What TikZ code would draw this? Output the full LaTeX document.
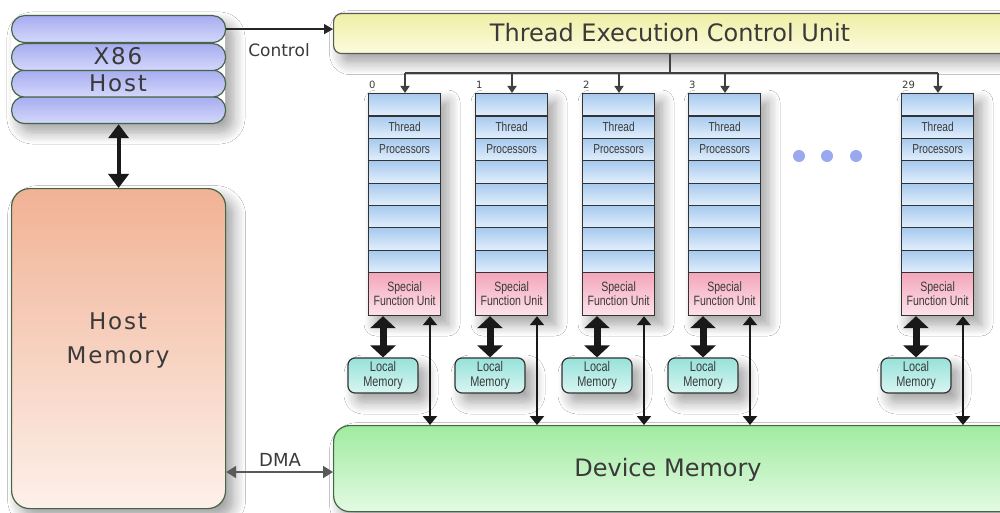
\documentclass[tikz,border=0pt]{standalone}
\usepackage{fontspec}
\setmainfont{DejaVu Sans}
\newfontfamily\narrowfont[FakeStretch=0.78]{Liberation Sans}
\newfontfamily\spacedfont[LetterSpace=8]{DejaVu Sans}
\usetikzlibrary{arrows.meta,shadows.blur,calc}
\definecolor{edgegreen}{HTML}{466446}
\definecolor{pilltop}{HTML}{A6ACF0}
\definecolor{pillbot}{HTML}{D4D8FB}
\definecolor{teutop}{HTML}{EFEFA6}
\definecolor{teubot}{HTML}{FBFBDE}
\definecolor{celltop}{HTML}{A6C9EE}
\definecolor{cellbot}{HTML}{E2EFFC}
\definecolor{sfutop}{HTML}{F3A6BC}
\definecolor{sfubot}{HTML}{FDE3EA}
\definecolor{lmtop}{HTML}{96E2DA}
\definecolor{lmbot}{HTML}{DAF6F2}
\definecolor{dmtop}{HTML}{A0EBA0}
\definecolor{dmbot}{HTML}{E3FAE3}
\definecolor{hmtop}{HTML}{F1B295}
\definecolor{hmbot}{HTML}{FDF0EA}
\definecolor{dotc}{HTML}{9AA8F0}
\definecolor{txt}{HTML}{3A3A3A}
\begin{document}
\begin{tikzpicture}[x=1pt,y=-1pt,
  shad/.style={blur shadow={shadow xshift=8pt,shadow yshift=-9pt,shadow blur radius=12pt,shadow opacity=38,shadow blur steps=10}},
  pill/.style={draw=edgegreen,line width=1.2pt,rounded corners=13pt,top color=pilltop,bottom color=pillbot,minimum width=214pt,minimum height=27pt,inner sep=0pt,anchor=north west},
  bigtxt/.style={text=txt,font=\fontsize{24}{34}\selectfont,inner sep=0pt},
  bigspaced/.style={text=txt,font=\spacedfont\fontsize{23}{34}\selectfont,inner sep=0pt,align=center},
  cell/.style={draw=black!80,line width=1.2pt,top color=celltop,bottom color=cellbot,minimum width=72pt,minimum height=22.4pt,anchor=north west,inner sep=0pt,text=txt,font=\narrowfont\fontsize{13}{13}\selectfont},
  sfu/.style={draw=black!80,line width=1.2pt,top color=sfutop,bottom color=sfubot,minimum width=72pt,minimum height=43pt,anchor=north west,inner sep=0pt,text=txt,align=center,font=\narrowfont\fontsize{13.5}{14}\selectfont},
  lm/.style={draw=black!80,line width=1.2pt,rounded corners=7pt,top color=lmtop,bottom color=lmbot,minimum width=70pt,minimum height=35pt,inner sep=0pt,text=txt,align=center,font=\narrowfont\fontsize{14}{15}\selectfont,shad},
  num/.style={text=txt,font=\fontsize{10}{10}\selectfont,inner sep=0pt,anchor=south west},
  ctrl/.style={draw=black!85,line width=1.5pt,-{Triangle[width=10pt,length=9pt]}},
  busline/.style={draw=black!75,line width=2pt},
  drop/.style={draw=black!75,line width=2pt,-{Triangle[width=9pt,length=7pt]}},
  thickarr/.style={draw=black!90,line width=4pt,{Triangle[width=20pt,length=14pt]}-{Triangle[width=20pt,length=14pt]}},
  fatarr/.style={draw=black!90,line width=7pt,{Triangle[width=25pt,length=12pt]}-{Triangle[width=25pt,length=12pt]}},
  thinarr/.style={draw=black!90,line width=2.2pt,{Triangle[width=14pt,length=9pt]}-{Triangle[width=14pt,length=9pt]}},
  dmaarr/.style={draw=black!65,line width=2pt,{Triangle[width=12pt,length=10pt]}-{Triangle[width=12pt,length=10pt]}},
  lbl/.style={text=txt,inner sep=0pt}
]
\useasboundingbox (0,0) rectangle (1000,513);
\fill[white] (0,0) rectangle (1000,513);

% Host memory
\node[shad,draw=edgegreen,line width=1.2pt,rounded corners=18pt,top color=hmtop,bottom color=hmbot,
  minimum width=214pt,minimum height=320pt,anchor=north west,inner sep=0pt] (hm) at (11,188) {};
\node[bigspaced] (hmtext) at (118,341) {Host\\Memory};

% Device memory
\node[shad,draw=edgegreen,line width=1.2pt,rounded corners=16pt,top color=dmtop,bottom color=dmbot,
  minimum width=690pt,minimum height=86pt,anchor=north west,inner sep=0pt] (dm) at (333,425) {};
\node[bigtxt] (dmtext) at (668,470) {Device Memory};

% Thread Execution Control Unit
\node[shad,draw=black!65,line width=1.2pt,rounded corners=8pt,top color=teutop,bottom color=teubot,
  minimum width=690pt,minimum height=40pt,anchor=north west,inner sep=0pt] (teu) at (333,13) {};
\node[bigtxt] (teutext) at (670,33) {Thread Execution Control Unit};

% X86 host stack
\path[shad,fill=white,rounded corners=13pt] (11,15) rectangle (225,123);
\node[pill] (p4) at (11,96) {};
\node[pill] (p3) at (11,69.5) {};
\node[pill] (p2) at (11,43) {};
\node[pill] (p1) at (11,15) {};
\node[bigspaced] (x86) at (118,56.5) {X86};
\node[bigspaced] (hosttxt) at (118,83.5) {Host};

% Control
\draw[ctrl] (p1.east) -- (p1.east -| teu.west);
\node[lbl,font=\fontsize{17}{17}\selectfont] (ctrltxt) at (279,50) {Control};

% Host <-> host memory
\draw[thickarr] (p4.south -| hm.north) -- (hm.north);

% DMA
\coordinate (dmarow) at (0,472);
\draw[dmaarr] (hm.east |- dmarow) -- (dm.west |- dmarow);
\node[lbl,font=\fontsize{18}{18}\selectfont] (dmatxt) at (280,460) {DMA};

% bus
\coordinate (bus) at (670,73);
\draw[busline] (teu.south -| bus) -- (bus);

% columns
\foreach \i/\x/\n in {0/368/0,1/475/1,2/582/2,3/688/3,4/901/29}{
  \path[shad,fill=white] (\x,93) rectangle (\x+72,315);
  \foreach \j in {1,...,8}{
    \node[cell] (c\i-r\j) at (\x,{93+(\j-1)*22.375}) {};
  }
  \node[sfu] (c\i-sfu) at (\x,272) {Special\\Function Unit};
  \node[lbl,text=txt,font=\narrowfont\fontsize{13}{13}\selectfont] at (c\i-r2.center) {Thread};
  \node[lbl,text=txt,font=\narrowfont\fontsize{13}{13}\selectfont] at (c\i-r3.center) {Processors};
  \node[num] (c\i-num) at (\x+1,89) {\n};
  \coordinate (c\i-in) at (\x+37,73);
  \draw[drop] (c\i-in) -- (c\i-in |- c\i-r1.north);
  \node[lm] (c\i-lm) at (\x+15,375.5) {Local\\Memory};
  \draw[fatarr] (c\i-sfu.south -| c\i-lm.north) -- (c\i-lm.north);
  \coordinate (c\i-d) at (\x+62,0);
  \draw[thinarr] (c\i-sfu.south -| c\i-d) -- (dm.north -| c\i-d);
}
\draw[busline] (c0-in) -- (c4-in);

% ellipsis dots
\fill[dotc] (799,156) circle (6pt) (827,156) circle (6pt) (856,156) circle (6pt);
\end{tikzpicture}
\end{document}
